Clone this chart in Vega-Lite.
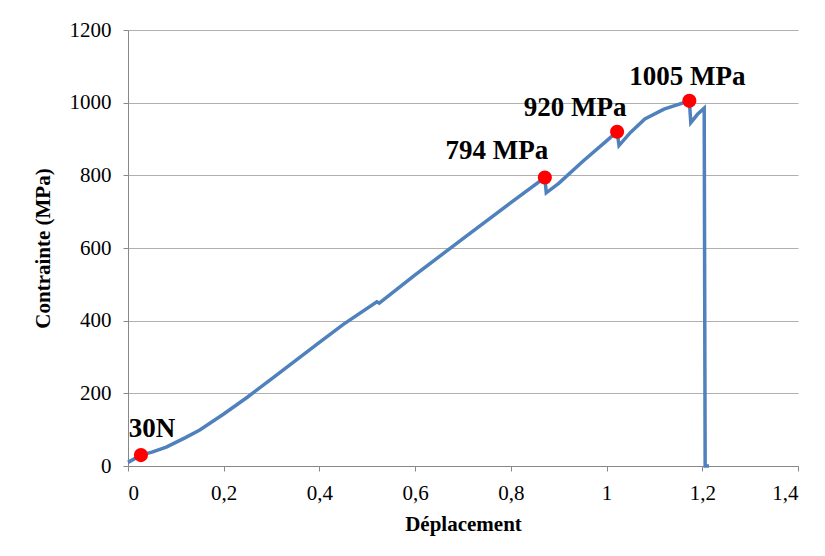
{
  "$schema": "https://vega.github.io/schema/vega-lite/v6.json",
  "width": 670,
  "height": 436,
  "autosize": {"type": "none"},
  "padding": {"left": 128, "top": 30, "right": 27, "bottom": 90},
  "background": "white",
  "config": {
    "view": {"stroke": null},
    "font": "Liberation Serif",
    "axis": {"labelFont": "Liberation Serif", "titleFont": "Liberation Serif", "labelColor": "black", "titleColor": "black", "domainColor": "#888888", "tickColor": "#888888", "gridColor": "#b0b0b0", "labelFontSize": 21, "titleFontSize": 21, "titleFontWeight": "bold"}
  },
  "datasets": {
    "curve": [
      {"i": 1, "d": 0.0, "c": 10},
      {"i": 2, "d": 0.027, "c": 30},
      {"i": 3, "d": 0.05, "c": 38},
      {"i": 4, "d": 0.08, "c": 52},
      {"i": 5, "d": 0.12, "c": 78},
      {"i": 6, "d": 0.15, "c": 99},
      {"i": 7, "d": 0.2, "c": 143},
      {"i": 8, "d": 0.25, "c": 190},
      {"i": 9, "d": 0.3, "c": 240},
      {"i": 10, "d": 0.35, "c": 290},
      {"i": 11, "d": 0.4, "c": 340},
      {"i": 12, "d": 0.45, "c": 390},
      {"i": 13, "d": 0.52, "c": 452},
      {"i": 14, "d": 0.525, "c": 448},
      {"i": 15, "d": 0.6, "c": 526},
      {"i": 16, "d": 0.7, "c": 626},
      {"i": 17, "d": 0.8, "c": 725},
      {"i": 18, "d": 0.871, "c": 794},
      {"i": 19, "d": 0.874, "c": 752},
      {"i": 20, "d": 0.9, "c": 778},
      {"i": 21, "d": 0.95, "c": 838},
      {"i": 22, "d": 1.0, "c": 895},
      {"i": 23, "d": 1.022, "c": 920},
      {"i": 24, "d": 1.026, "c": 882},
      {"i": 25, "d": 1.05, "c": 918},
      {"i": 26, "d": 1.08, "c": 955},
      {"i": 27, "d": 1.12, "c": 982},
      {"i": 28, "d": 1.173, "c": 1005},
      {"i": 29, "d": 1.176, "c": 945},
      {"i": 30, "d": 1.19, "c": 968},
      {"i": 31, "d": 1.204, "c": 985},
      {"i": 32, "d": 1.206, "c": 0},
      {"i": 33, "d": 1.214, "c": 0}
    ],
    "points": [
      {"d": 0.027, "c": 30, "label": "30N"},
      {"d": 0.871, "c": 794, "label": "794 MPa"},
      {"d": 1.022, "c": 920, "label": "920 MPa"},
      {"d": 1.173, "c": 1005, "label": "1005 MPa"}
    ]
  },
  "layer": [
    {
      "data": {"name": "curve"},
      "mark": {"type": "line", "color": "#4F81BD", "strokeWidth": 3.5, "strokeJoin": "miter"},
      "encoding": {
        "x": {"field": "d", "type": "quantitative", "scale": {"domain": [0, 1.4], "nice": false}, "title": "Déplacement",
          "axis": {"values": [0, 0.2, 0.4, 0.6, 0.8, 1, 1.2, 1.4], "grid": false, "tickSize": 5, "labelPadding": 11, "titlePadding": 10,
            "labelExpr": "replace(format(datum.value, '.1~f'), '.', ',')"}},
        "y": {"field": "c", "type": "quantitative", "scale": {"domain": [0, 1200], "nice": false}, "title": "Contrainte (MPa)",
          "axis": {"values": [0, 200, 400, 600, 800, 1000, 1200], "format": "d", "grid": true, "tickSize": 5, "labelPadding": 12, "titlePadding": 16}},
        "order": {"field": "i", "type": "quantitative"}
      }
    },
    {
      "data": {"name": "points"},
      "mark": {"type": "point", "filled": true, "color": "#FF0000", "opacity": 1, "size": 200},
      "encoding": {
        "x": {"field": "d", "type": "quantitative"},
        "y": {"field": "c", "type": "quantitative"}
      }
    },
    {
      "data": {"name": "points"},
      "transform": [{"filter": "datum.label == '30N'"}],
      "mark": {"type": "text", "font": "Liberation Serif", "fontWeight": "bold", "fontSize": 27, "align": "center", "baseline": "bottom", "dy": -12, "dx": 11, "color": "black"},
      "encoding": {
        "x": {"field": "d", "type": "quantitative"},
        "y": {"field": "c", "type": "quantitative"},
        "text": {"field": "label"}
      }
    },
    {
      "data": {"name": "points"},
      "transform": [{"filter": "datum.label == '794 MPa'"}],
      "mark": {"type": "text", "font": "Liberation Serif", "fontWeight": "bold", "fontSize": 27, "align": "center", "baseline": "bottom", "dy": -13, "dx": -48, "color": "black"},
      "encoding": {
        "x": {"field": "d", "type": "quantitative"},
        "y": {"field": "c", "type": "quantitative"},
        "text": {"field": "label"}
      }
    },
    {
      "data": {"name": "points"},
      "transform": [{"filter": "datum.label == '920 MPa'"}],
      "mark": {"type": "text", "font": "Liberation Serif", "fontWeight": "bold", "fontSize": 27, "align": "center", "baseline": "bottom", "dy": -10, "dx": -42, "color": "black"},
      "encoding": {
        "x": {"field": "d", "type": "quantitative"},
        "y": {"field": "c", "type": "quantitative"},
        "text": {"field": "label"}
      }
    },
    {
      "data": {"name": "points"},
      "transform": [{"filter": "datum.label == '1005 MPa'"}],
      "mark": {"type": "text", "font": "Liberation Serif", "fontWeight": "bold", "fontSize": 27, "align": "center", "baseline": "bottom", "dy": -10, "dx": -2, "color": "black"},
      "encoding": {
        "x": {"field": "d", "type": "quantitative"},
        "y": {"field": "c", "type": "quantitative"},
        "text": {"field": "label"}
      }
    }
  ]
}
